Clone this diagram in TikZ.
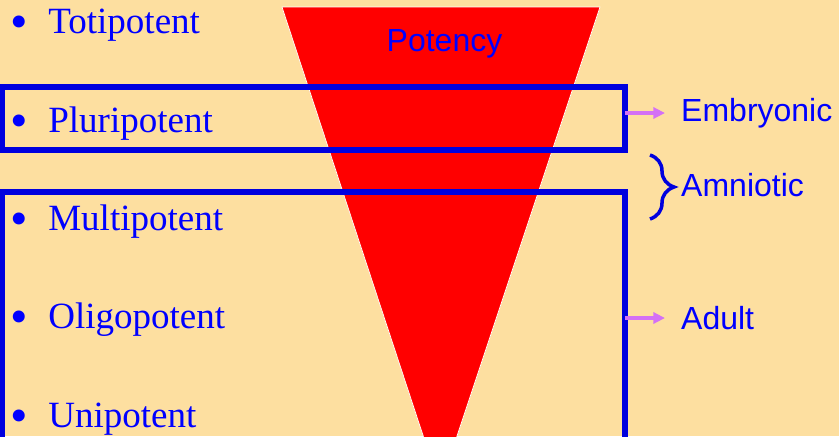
\documentclass[tikz,border=0pt]{standalone}
\usepackage{fontspec}
\usepackage{graphicx}
\setmainfont{Liberation Serif}
\newfontfamily\labelfont{Liberation Sans}
\usetikzlibrary{arrows.meta, decorations.pathreplacing, positioning}

\definecolor{paper}{RGB}{253,223,160}
\definecolor{deepblue}{RGB}{0,0,222}
\definecolor{lilac}{RGB}{212,112,245}

\newcommand{\bigdot}{\makebox[32.5pt][l]{\scalebox{1.35}{\raisebox{-0.11em}{•}}}}

\begin{document}
\begin{tikzpicture}[x=0.03cm, y=-0.03cm, >=Stealth,
        level/.style={anchor=base west, inner sep=0pt, text=blue, font=\fontsize{31.6}{36}\selectfont},
        kind/.style={anchor=west, inner sep=0pt, text=blue, font=\labelfont\fontsize{27.3}{31}\selectfont},
        frame/.style={draw=deepblue, line width=4.3pt},
        link/.style={draw=lilac, line width=2.6pt, -{Triangle[length=10pt, width=9.5pt]}, shorten >=0.48cm}]

        % --- Background ---
        \useasboundingbox (0,0) rectangle (839,436);
        \fill[paper] (0,0) rectangle (839,436);
        \clip (0,0) rectangle (839,436);

        % --- Potency funnel ---
        \fill[red, draw=white, line width=0.6pt] (282,7) -- (600,7) -- (440,487) -- cycle;
        \node[anchor=base, inner sep=0pt, text=blue, font=\labelfont\fontsize{27.3}{31}\selectfont] (potency) at (444.5,51) {Potency};

        % --- Levels of potency ---
        \node[level] (toti)  at (10,33)  {\bigdot Totipotent};
        \node[level] (pluri) at (10,132) {\bigdot Pluripotent};
        \node[level] (multi) at (10,230) {\bigdot Multipotent};
        \node[level] (oligo) at (10,328) {\bigdot Oligopotent};
        \node[level] (uni)   at (10,427) {\bigdot Unipotent};

        % Frames
        \draw[frame] (2,87) rectangle (625,150);
        \draw[frame] (2,500) |- (625,192) -- (625,500);

        % --- Stem cell kinds ---
        \node[kind] (emb)   at (681,113) {Embryonic};
        \node[kind] (amnio) at (681,185) {Amniotic};
        \node[kind] (adult) at (681,318) {Adult};

        % Arrows out of the frames
        \coordinate (embout) at (625,113);
        \coordinate (adultout) at (625,318);
        \draw[link] (embout) -- (emb.west);
        \draw[link] (adultout) -- (adult.west);

        % Brace
        \draw[deepblue, line width=3pt, decorate, decoration={brace, amplitude=0.72cm}] (650,155) -- (650,219);

    \end{tikzpicture}
\end{document}
